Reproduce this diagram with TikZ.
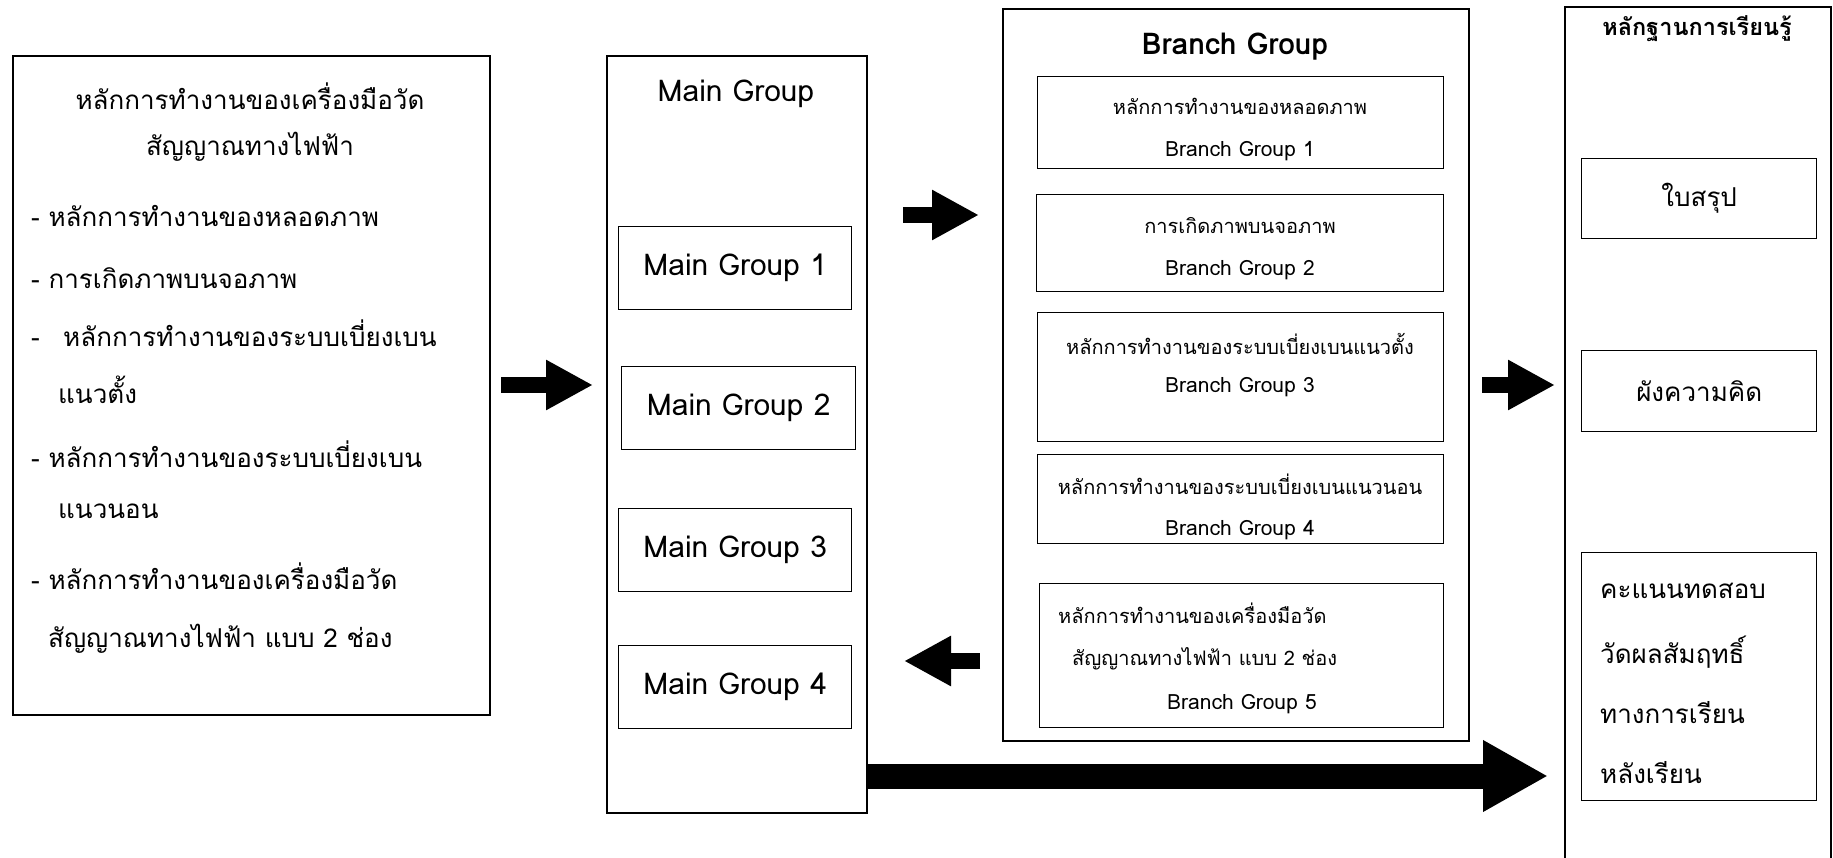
\documentclass[tikz,border=0pt]{standalone}
\usepackage{fontspec}
\setmainfont{Loma}[Script=Thai]
\usetikzlibrary{arrows.meta}
\tikzset{
  frame/.style={draw, line width=1.4pt, inner sep=0pt, anchor=north west},
  outerframe/.style={draw, line width=1.8pt, inner sep=0pt, anchor=north west},
  txt/.style={inner sep=0pt},
  ltxt/.style={inner sep=0pt, anchor=west},
  lefttext/.style={font=\fontsize{26}{31}\selectfont},
  mgtext/.style={font=\fontsize{30}{36}\selectfont},
  bgthai/.style={font=\fontsize{20}{24}\selectfont},
  bglatin/.style={font=\fontsize{21}{25}\selectfont},
  bgtitle/.style={font=\bfseries\fontsize{30}{36}\selectfont},
  rtitle/.style={font=\bfseries\fontsize{23.5}{28}\selectfont},
  rtext/.style={font=\fontsize{26}{31}\selectfont},
  blockarrow/.style={line width=16pt, -{Triangle[length=47pt,width=47pt]}},
  bigarrow/.style={line width=25pt, -{Triangle[length=65pt,width=67pt]}},
}
\begin{document}
\begin{tikzpicture}[x=1pt,y=-1pt]
\useasboundingbox (0,0) rectangle (1833,858);
% left box
\node[outerframe, minimum width=477pt, minimum height=659pt] (left) at (12,55) {};
\node[txt, lefttext] (l1) at (250,96) {หลักการทำงานของเครื่องมือวัด};
\node[txt, lefttext] (l2) at (250,147) {สัญญาณทางไฟฟ้า};
\node[ltxt, lefttext] (l3) at (31,216) {- หลักการทำงานของหลอดภาพ};
\node[ltxt, lefttext] (l4) at (31,278) {- การเกิดภาพบนจอภาพ};
\node[ltxt, lefttext] (l5) at (31,333) {-\hspace{0.9em}หลักการทำงานของระบบเบี่ยงเบน};
\node[ltxt, lefttext] (l6) at (58,390) {แนวตั้ง};
\node[ltxt, lefttext] (l7) at (31,454) {- หลักการทำงานของระบบเบี่ยงเบน};
\node[ltxt, lefttext] (l8) at (58,511) {แนวนอน};
\node[ltxt, lefttext] (l9) at (31,576) {- หลักการทำงานของเครื่องมือวัด};
\node[ltxt, lefttext] (l10) at (48,639) {สัญญาณทางไฟฟ้า แบบ 2 ช่อง};
% main group
\node[outerframe, minimum width=260pt, minimum height=757pt] (mg) at (606,55) {};
\node[txt, mgtext] (mgt) at (736,94) {Main Group};
\node[frame, minimum width=233pt, minimum height=83pt] (mg1) at (618,226) {};
\node[txt, mgtext] at (mg1.center) {Main Group 1};
\node[frame, minimum width=234pt, minimum height=83pt] (mg2) at (621,366) {};
\node[txt, mgtext] at (mg2.center) {Main Group 2};
\node[frame, minimum width=233pt, minimum height=83pt] (mg3) at (618,508) {};
\node[txt, mgtext] at (mg3.center) {Main Group 3};
\node[frame, minimum width=233pt, minimum height=83pt] (mg4) at (618,645) {};
\node[txt, mgtext] at (mg4.center) {Main Group 4};
% branch group
\node[outerframe, minimum width=466pt, minimum height=732pt] (bg) at (1002,8) {};
\node[txt, bgtitle] (bgt) at (1235,47) {Branch Group};
\node[frame, minimum width=406pt, minimum height=92pt] (bg1) at (1037,76) {};
\node[txt, bgthai] (bg1a) at (1240,106) {หลักการทำงานของหลอดภาพ};
\node[txt, bglatin] (bg1b) at (1240,151) {Branch Group 1};
\node[frame, minimum width=407pt, minimum height=97pt] (bg2) at (1036,194) {};
\node[txt, bgthai] (bg2a) at (1240,226) {การเกิดภาพบนจอภาพ};
\node[txt, bglatin] (bg2b) at (1240,270) {Branch Group 2};
\node[frame, minimum width=406pt, minimum height=129pt] (bg3) at (1037,312) {};
\node[txt, bgthai] (bg3a) at (1240,344) {หลักการทำงานของระบบเบี่ยงเบนแนวตั้ง};
\node[txt, bglatin] (bg3b) at (1240,387) {Branch Group 3};
\node[frame, minimum width=406pt, minimum height=89pt] (bg4) at (1037,454) {};
\node[txt, bgthai] (bg4a) at (1240,484) {หลักการทำงานของระบบเบี่ยงเบนแนวนอน};
\node[txt, bglatin] (bg4b) at (1240,530) {Branch Group 4};
\node[frame, minimum width=404pt, minimum height=144pt] (bg5) at (1039,583) {};
\node[ltxt, bgthai] (bg5a) at (1058,613) {หลักการทำงานของเครื่องมือวัด};
\node[ltxt, bgthai] (bg5b) at (1072,659) {สัญญาณทางไฟฟ้า แบบ 2 ช่อง};
\node[txt, bglatin] (bg5c) at (1242,704) {Branch Group 5};
% right column
\node[outerframe, minimum width=266pt, minimum height=870pt] (rc) at (1564,6) {};
\node[txt, rtitle] (rct) at (1697,29) {หลักฐานการเรียนรู้};
\node[frame, minimum width=235pt, minimum height=80pt] (rb1) at (1581,158) {};
\node[txt, rtext] at (rb1.center) {ใบสรุป};
\node[frame, minimum width=235pt, minimum height=81pt] (rb2) at (1581,350) {};
\node[txt, rtext] at (rb2.center) {ผังความคิด};
\node[frame, minimum width=235pt, minimum height=248pt] (rb3) at (1581,552) {};
\node[ltxt, rtext] (r1) at (1600,591) {คะแนนทดสอบ};
\node[ltxt, rtext] (r2) at (1600,652) {วัดผลสัมฤทธิ์};
\node[ltxt, rtext] (r3) at (1600,713) {ทางการเรียน};
\node[ltxt, rtext] (r4) at (1600,773) {หลังเรียน};
% arrow end points
\coordinate (a1s) at (501,385);
\coordinate (a1e) at (593,385);
\coordinate (a2s) at (903,215);
\coordinate (a2e) at (979,215);
\coordinate (a3s) at (980,661);
\coordinate (a3e) at (904,661);
\coordinate (a4s) at (1482,385);
\coordinate (a4e) at (1555,385);
\coordinate (a5s) at (868,776);
\coordinate (a5e) at (1548,776);
\draw[blockarrow] (a1s) -- (a1e);
\draw[blockarrow] (a2s) -- (a2e);
\draw[blockarrow] (a3s) -- (a3e);
\draw[blockarrow] (a4s) -- (a4e);
\draw[bigarrow] (a5s) -- (a5e);
\end{tikzpicture}
\end{document}
